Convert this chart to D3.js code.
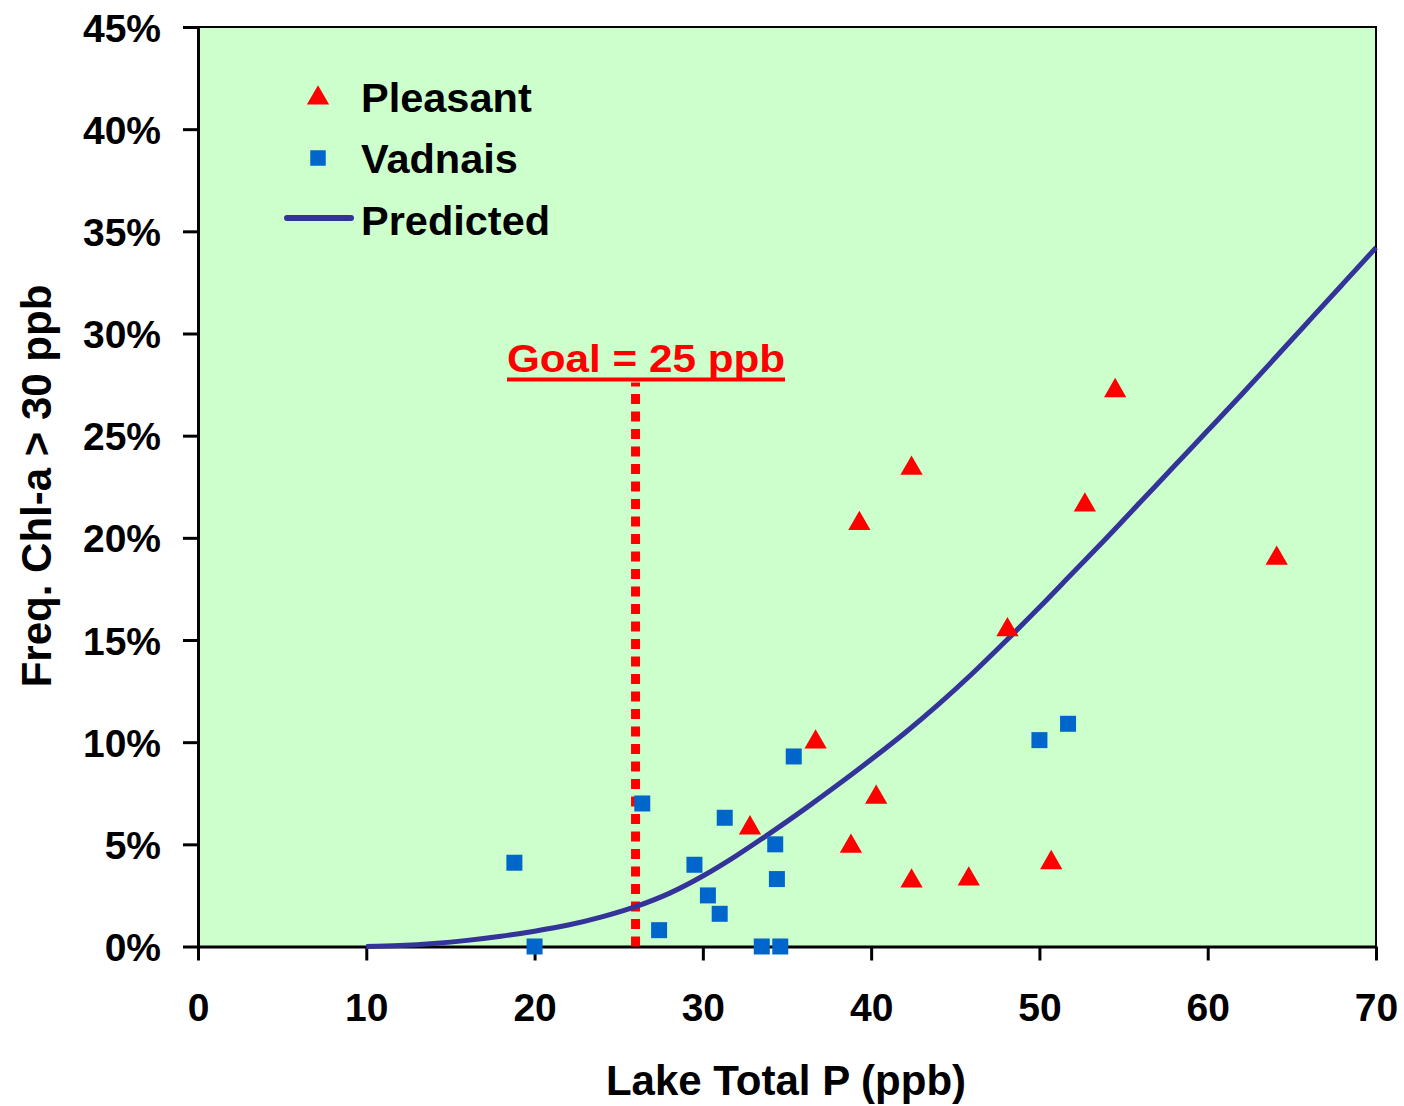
<!DOCTYPE html>
<html>
<head>
<meta charset="utf-8">
<script src="https://cdn.jsdelivr.net/npm/d3@7"></script>
<style>
  body { margin: 0; background: #fff; }
  text { font-family: "Liberation Sans", Arial, sans-serif; font-weight: bold; }
</style>
</head>
<body>
<svg id="chart" width="1404" height="1106"></svg>
<script>
// Pleasant lake observations: total P (ppb) and freq. of Chl-a > 30 ppb (%)
const pleasantP    = [54.5, 42.4, 39.3, 52.7, 64.1, 48.1, 36.7, 40.3, 32.8, 38.8, 42.4, 45.8, 50.7];
const pleasantFreq = [27.2, 23.4, 20.7, 21.6, 19.0, 15.5, 10.0, 7.3, 5.8, 4.9, 3.2, 3.3, 4.1];

// Vadnais lake observations
const vadnaisP    = [18.8, 20.0, 26.4, 27.4, 29.5, 30.3, 31.0, 31.3, 33.5, 34.6, 34.3, 34.4, 35.4, 50.0, 51.7];
const vadnaisFreq = [4.1, 0.0, 7.0, 0.8, 4.0, 2.5, 1.6, 6.3, 0.0, 0.0, 5.0, 3.3, 9.3, 10.1, 10.9];

// Predicted curve
const predP    = [10, 12, 14, 16, 18, 20, 22, 24, 26, 28, 30, 32, 34, 36, 38, 40, 42, 44, 46, 48, 50, 52, 54, 56, 58, 60, 62, 64, 66, 68, 70];
const predFreq = [0, 0.05, 0.15, 0.3, 0.5, 0.75, 1.05, 1.45, 1.95, 2.6, 3.45, 4.45, 5.55, 6.7, 7.9, 9.15, 10.45, 11.85, 13.35, 14.95, 16.6, 18.3, 20.0, 21.75, 23.5, 25.25, 27.0, 28.8, 30.6, 32.4, 34.2];

// Goal line
const goalP = 26;
const goalTop = 27.6;
const goalLabel = "Goal = 25 ppb";

const xTicks = [0, 10, 20, 30, 40, 50, 60, 70];
const yTicks = [0, 5, 10, 15, 20, 25, 30, 35, 40, 45];

const svg = d3.select("#chart");

const x = d3.scaleLinear().domain([0, 70]).range([198, 1376]);
const y = d3.scaleLinear().domain([0, 45]).range([946.5, 27]);

// plot background
svg.append("rect")
    .attr("x", x(0)).attr("y", y(45))
    .attr("width", x(70) - x(0)).attr("height", y(0) - y(45))
    .attr("fill", "#CCFFCC");

// top and right border
svg.append("path")
    .attr("d", `M${x(0)},${y(45)}H${x(70)}V${y(0)}`)
    .attr("fill", "none").attr("stroke", "#000").attr("stroke-width", 2);

// axes
const xAxis = svg.append("g")
    .attr("transform", `translate(0,${y(0)})`)
    .call(d3.axisBottom(x).tickValues(xTicks).tickSize(14).tickPadding(33).tickSizeOuter(0));
const yAxis = svg.append("g")
    .attr("transform", `translate(${x(0)},0)`)
    .call(d3.axisLeft(y).tickValues(yTicks).tickSize(15).tickPadding(22).tickSizeOuter(0)
        .tickFormat(d => d + "%"));

[xAxis, yAxis].forEach(g => {
    g.select(".domain").attr("stroke", "#000").attr("stroke-width", 3);
    g.selectAll(".tick line").attr("stroke", "#000").attr("stroke-width", 3);
    g.selectAll(".tick text")
        .attr("fill", "#000")
        .style("font-size", "39px")
        .style("font-family", "'Liberation Sans', Arial, sans-serif")
        .style("font-weight", "bold");
});
yAxis.selectAll(".tick text").attr("dy", "0.36em");

// goal dashed line
svg.append("line")
    .attr("x1", x(goalP)).attr("x2", x(goalP))
    .attr("y1", y(0)).attr("y2", y(goalTop))
    .attr("stroke", "#FF0000").attr("stroke-width", 9)
    .attr("stroke-dasharray", "10,7.5");

svg.append("text")
    .attr("x", 507).attr("y", 372)
    .attr("textLength", 278).attr("lengthAdjust", "spacingAndGlyphs")
    .attr("fill", "#FF0000")
    .style("font-size", "38px")
    .text(goalLabel);
svg.append("line")
    .attr("x1", 507).attr("x2", 785)
    .attr("y1", 379.5).attr("y2", 379.5)
    .attr("stroke", "#FF0000").attr("stroke-width", 4);

// predicted curve
const pred = predP.map((p, i) => [p, predFreq[i]]);
svg.append("path")
    .datum(pred)
    .attr("d", d3.line().x(d => x(d[0])).y(d => y(d[1])).curve(d3.curveMonotoneX))
    .attr("fill", "none")
    .attr("stroke", "#333399")
    .attr("stroke-width", 5);

// points
const tri = d3.symbol().type(d3.symbolTriangle).size(215);
const sq = d3.symbol().type(d3.symbolSquare).size(256);

svg.append("g").selectAll("path")
    .data(pleasantP.map((p, i) => [p, pleasantFreq[i]]))
    .join("path")
    .attr("d", tri)
    .attr("transform", d => `translate(${x(d[0])},${y(d[1])})`)
    .attr("fill", "#FF0000");

svg.append("g").selectAll("path")
    .data(vadnaisP.map((p, i) => [p, vadnaisFreq[i]]))
    .join("path")
    .attr("d", sq)
    .attr("transform", d => `translate(${x(d[0])},${y(d[1])})`)
    .attr("fill", "#0066CC");

// legend
const legend = svg.append("g");
legend.append("path").attr("d", d3.symbol().type(d3.symbolTriangle).size(215))
    .attr("transform", "translate(318,98)").attr("fill", "#FF0000");
legend.append("path").attr("d", d3.symbol().type(d3.symbolSquare).size(240))
    .attr("transform", "translate(318,158)").attr("fill", "#0066CC");
legend.append("line").attr("x1", 287).attr("x2", 351).attr("y1", 218).attr("y2", 218)
    .attr("stroke", "#333399").attr("stroke-width", 6).attr("stroke-linecap", "round");
[["Pleasant", 97], ["Vadnais", 158], ["Predicted", 220]].forEach(([t, cy]) => {
    legend.append("text")
        .attr("x", 361).attr("y", cy).attr("dy", "0.36em")
        .attr("fill", "#000")
        .style("font-size", "41.5px")
        .text(t);
});

// axis titles
svg.append("text")
    .attr("x", 786).attr("y", 1095)
    .attr("text-anchor", "middle")
    .style("font-size", "42px")
    .text("Lake Total P (ppb)");
svg.append("text")
    .attr("transform", "translate(51,486) rotate(-90)")
    .attr("text-anchor", "middle")
    .style("font-size", "42px")
    .text("Freq. Chl-a > 30 ppb");
</script>
</body>
</html>
